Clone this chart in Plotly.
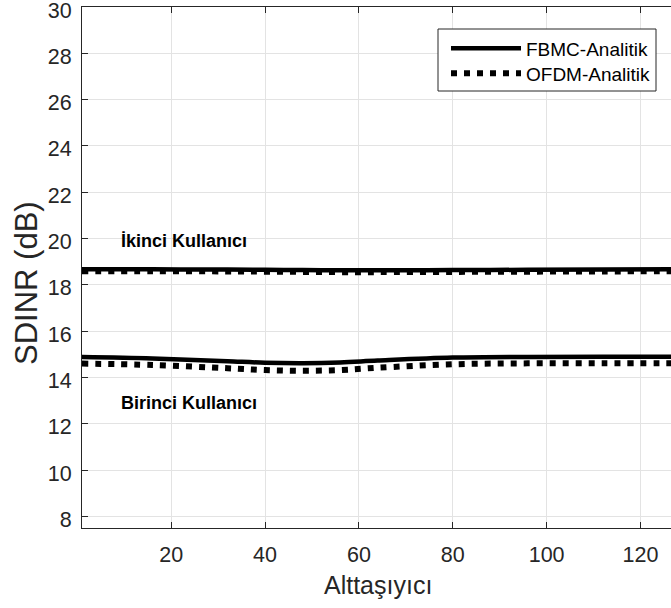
import plotly.graph_objects as go

# Subcarrier index (Alttaşıyıcı)
x_sub = [1, 16, 32, 40, 48, 56, 64, 80, 96, 112, 128]

# User 1 (Birinci Kullanıcı)
fbmc_u1 = [14.88, 14.82, 14.70, 14.64, 14.62, 14.65, 14.73, 14.86, 14.89, 14.90, 14.90]
ofdm_u1 = [14.60, 14.54, 14.40, 14.32, 14.29, 14.32, 14.42, 14.57, 14.61, 14.61, 14.61]

# User 2 (İkinci Kullanıcı)
fbmc_u2 = [18.67, 18.67, 18.66, 18.65, 18.64, 18.63, 18.63, 18.64, 18.65, 18.66, 18.67]
ofdm_u2 = [18.59, 18.59, 18.58, 18.57, 18.56, 18.55, 18.55, 18.56, 18.57, 18.58, 18.59]

x_ticks = [20, 40, 60, 80, 100, 120]
y_ticks = [8, 10, 12, 14, 16, 18, 20, 22, 24, 26, 28, 30]

FONT = "Liberation Sans, Arial, sans-serif"
AX = "#262626"
GRID = "#e3e3e3"

# plot-area geometry in pixels (for paper-coordinate placement)
L, R, T, B, W, H = 82, 0, 7, 80, 671, 608
PW, PH = W - L - R, H - T - B


def px(xp):
    return (xp - L) / PW


def py(yp):
    return (H - B - yp) / PH


fig = go.Figure()

solid = dict(color="black", width=4.5, shape="spline")
dotted = dict(color="black", width=6, dash="6px,7px", shape="spline")

fig.add_trace(go.Scatter(x=x_sub, y=fbmc_u1, mode="lines", line=solid,
                         name="FBMC-Analitik", legend="legend"))
fig.add_trace(go.Scatter(x=x_sub, y=fbmc_u2, mode="lines", line=solid,
                         name="FBMC-Analitik", showlegend=False))
fig.add_trace(go.Scatter(x=x_sub, y=ofdm_u1, mode="lines", line=dotted,
                         name="OFDM-Analitik", legend="legend2"))
fig.add_trace(go.Scatter(x=x_sub, y=ofdm_u2, mode="lines", line=dotted,
                         name="OFDM-Analitik", showlegend=False))

fig.add_annotation(x=8.8, y=19.9, text="<b>İkinci Kullanıcı</b>", showarrow=False,
                   xanchor="left", yanchor="middle",
                   font=dict(family=FONT, size=18, color="black"))
fig.add_annotation(x=8.8, y=12.9, text="<b>Birinci Kullanıcı</b>", showarrow=False,
                   xanchor="left", yanchor="middle",
                   font=dict(family=FONT, size=18, color="black"))

# axis titles
fig.add_annotation(xref="paper", yref="paper", x=px(378), y=py(585),
                   text="Alttaşıyıcı", showarrow=False, xanchor="center", yanchor="middle",
                   font=dict(family=FONT, size=25, color=AX))
fig.add_annotation(xref="paper", yref="paper", x=px(26), y=py(283),
                   text="SDINR (dB)", showarrow=False, xanchor="center", yanchor="middle",
                   textangle=-90, font=dict(family=FONT, size=31, color=AX))

# legend frame
fig.add_shape(type="rect", xref="paper", yref="paper",
              x0=px(438), x1=px(656), y0=py(91), y1=py(29),
              fillcolor="white", line=dict(color=AX, width=1), layer="above")

leg = dict(xanchor="left", yanchor="middle", bgcolor="rgba(0,0,0,0)", borderwidth=0,
           font=dict(family=FONT, size=19, color="black"), itemwidth=70)

fig.update_layout(
    width=W, height=H,
    margin=dict(l=L, r=R, t=T, b=B, autoexpand=False),
    paper_bgcolor="white", plot_bgcolor="white",
    font=dict(family=FONT, color=AX),
    legend=dict(x=px(446), y=py(48.5), **leg),
    legend2=dict(x=px(446), y=py(73.5), **leg),
    xaxis=dict(range=[1, 126.5], tickvals=x_ticks, ticks="inside", ticklen=6,
               tickcolor=AX, showline=True, linecolor=AX, linewidth=1.2,
               mirror="ticks", showgrid=True, gridcolor=GRID, zeroline=False,
               tickfont=dict(size=21.5, color=AX), ticklabelstandoff=7,
               ticklabeloverflow="allow", automargin=False),
    yaxis=dict(range=[7.5, 30], tickvals=y_ticks, ticks="inside", ticklen=6,
               tickcolor=AX, showline=True, linecolor=AX, linewidth=1.2,
               showgrid=True, gridcolor=GRID, zeroline=False,
               tickfont=dict(size=21.5, color=AX), ticklabelstandoff=5,
               ticklabelshift=3,
               ticklabeloverflow="allow", automargin=False),
)

fig.write_html("out.html")
